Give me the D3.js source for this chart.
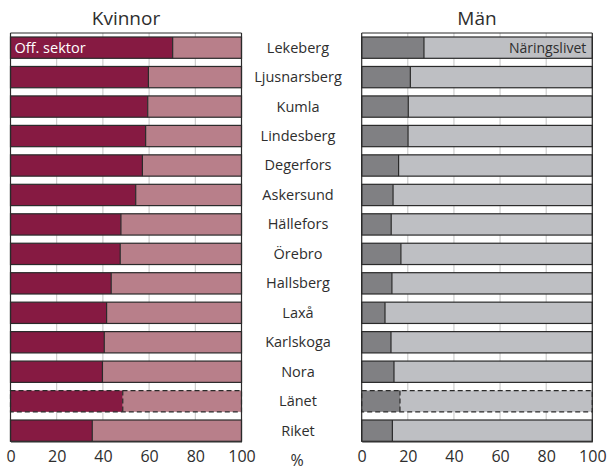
<!DOCTYPE html>
<html><head><meta charset="utf-8">
<script src="https://cdn.jsdelivr.net/npm/d3@7"></script>
<style>body{margin:0;background:#fff}text{font-family:"Open Sans",sans-serif;fill:#2e2e2e}</style>
</head><body><svg id="c" width="609" height="471"></svg>
<script>
const categories = ["Lekeberg","Ljusnarsberg","Kumla","Lindesberg","Degerfors","Askersund","Hällefors","Örebro","Hallsberg","Laxå","Karlskoga","Nora","Länet","Riket"];
const womenPublic = [70.2,59.7,59.4,58.5,57.1,54.2,47.8,47.5,43.6,41.6,40.6,39.8,48.6,35.4];
const menPublic = [27.0,21.1,20.2,20.1,16.0,13.6,12.8,17.0,13.1,10.1,12.7,14.0,16.6,13.3];
const ticks = [0,20,40,60,80,100];
const dashedCat = "Länet";

const svg = d3.select("#c");
const y = d3.scaleBand().domain(categories).range([37, 441.3]).paddingInner(0.277).paddingOuter(0);

function panel(x0, x1, vals, dark, light, title, label, labelRight) {
  const x = d3.scaleLinear().domain([0,100]).range([x0, x1]);
  const g = svg.append("g");
  g.selectAll("line.grid").data(ticks.slice(1,-1)).join("line")
    .attr("x1", d=>x(d)).attr("x2", d=>x(d)).attr("y1", 33).attr("y2", 441.5)
    .attr("stroke", "#c4c4c4").attr("stroke-width", 1);
  const rows = g.selectAll("g.row").data(categories.map((c,i)=>({c, v: vals[i]}))).join("g");
  rows.append("rect").attr("x", x(0)).attr("y", d=>y(d.c)).attr("width", d=>x(d.v)-x(0)).attr("height", y.bandwidth())
    .attr("fill", dark);
  rows.append("rect").attr("x", d=>x(d.v)).attr("y", d=>y(d.c)).attr("width", d=>x(100)-x(d.v)).attr("height", y.bandwidth())
    .attr("fill", light);
  rows.append("rect").attr("x", x(0)).attr("y", d=>y(d.c)).attr("width", x(100)-x(0)).attr("height", y.bandwidth())
    .attr("fill", "none").attr("stroke", "#2a2a2a").attr("stroke-width", 1.2)
    .attr("stroke-dasharray", d=>d.c===dashedCat ? "5,3" : null);
  rows.append("line").attr("x1", d=>x(d.v)).attr("x2", d=>x(d.v)).attr("y1", d=>y(d.c)).attr("y2", d=>y(d.c)+y.bandwidth())
    .attr("stroke", "#2a2a2a").attr("stroke-width", 1.2)
    .attr("stroke-dasharray", d=>d.c===dashedCat ? "5,3" : null);
  g.append("line").attr("x1", x(0)).attr("x2", x(100)).attr("y1", 33).attr("y2", 33).attr("stroke", "#2a2a2a").attr("stroke-width", 1.2);
  g.append("line").attr("x1", x(0)).attr("x2", x(0)).attr("y1", 33).attr("y2", 441.5).attr("stroke", "#2a2a2a").attr("stroke-width", 1.2);
  g.append("line").attr("x1", x(100)).attr("x2", x(100)).attr("y1", 33).attr("y2", 441.5).attr("stroke", "#2a2a2a").attr("stroke-width", 1.2);
  const ax = d3.axisBottom(x).tickValues(ticks).tickSize(0).tickPadding(9).tickFormat(d3.format("d"));
  const a = g.append("g").attr("transform", "translate(0,441.5)").call(ax);
  a.select(".domain").attr("stroke", "#2a2a2a").attr("stroke-width", 1.2);
  a.selectAll("text").attr("font-size", 16).attr("fill", "#2e2e2e").attr("font-family", "Open Sans");
  g.append("text").attr("x", (x0+x1)/2).attr("y", 25).attr("text-anchor", "middle").attr("font-size", 19).text(title);
  const first = categories[0];
  g.append("text").attr("x", labelRight ? x(100)-6 : x(0)+4).attr("y", y(first)+y.bandwidth()/2+5)
    .attr("text-anchor", labelRight ? "end" : "start").attr("font-size", labelRight ? 14 : 14.5)
    .style("fill", labelRight ? "#2e2e2e" : "#fff").text(label);
}

panel(10.5, 241.5, womenPublic, "#861a42", "#b87f8a", "Kvinnor", "Off. sektor", false);
panel(361.7, 592.3, menPublic, "#808083", "#bebfc3", "Män", "Näringslivet", true);

svg.append("g").selectAll("text").data(categories).join("text")
  .attr("x", 298).attr("y", d=>y(d)+y.bandwidth()/2+5).attr("text-anchor", "middle").attr("font-size", 14.5).text(d=>d);
svg.append("text").attr("x", 297).attr("y", 466).attr("text-anchor", "middle").attr("font-size", 16).text("%");
</script></body></html>
